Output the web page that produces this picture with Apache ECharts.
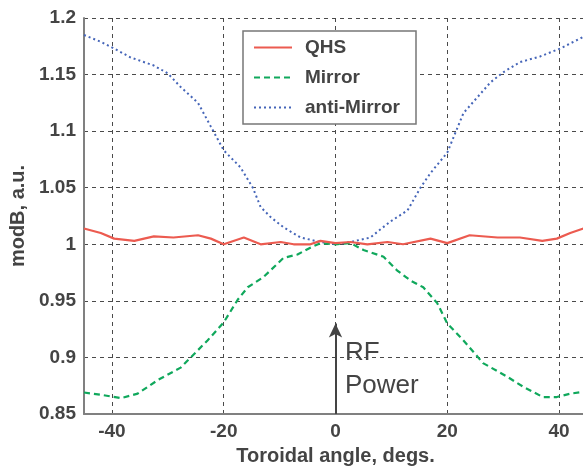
<!DOCTYPE html>
<html>
<head>
<meta charset="utf-8">
<script src="https://cdn.jsdelivr.net/npm/echarts@6/dist/echarts.min.js"></script>
<style>
  html, body { margin: 0; padding: 0; background: #fff; }
  #chart { width: 583px; height: 470px; }
</style>
</head>
<body>
<div id="chart"></div>
<script>
// values
var seriesNames = ["QHS", "Mirror", "anti-Mirror"];

var qhsX = [-45, -42, -39.6, -36, -32.5, -29, -24.6, -22.3, -20, -16.4, -13.4, -9.8, -7.5, -4.5, -2.7, 0,
  2.7, 5.7, 9.3, 12.1, 17, 20, 24, 29, 33, 37, 39.6, 42, 45];
var qhsY = [1.014, 1.010, 1.005, 1.003, 1.007, 1.006, 1.008, 1.005, 1.000, 1.006, 1.000, 1.002, 1.000, 1.000, 1.003, 1.001,
  1.002, 1.000, 1.002, 1.000, 1.005, 1.001, 1.008, 1.006, 1.006, 1.003, 1.005, 1.010, 1.015];

var mirrorX = [-45, -42, -38.4, -35.4, -31.8, -27.7, -25.9, -22.9, -20, -17.5, -15.7, -12.9, -9.3, -6.8, -4.5, -2.7, 0,
  2.7, 5, 8.6, 11, 13.4, 15.7, 18.2, 20, 22.9, 26.4, 30.7, 33.6, 37.1, 39.6, 42, 45];
var mirrorY = [0.869, 0.867, 0.864, 0.868, 0.880, 0.891, 0.900, 0.915, 0.931, 0.951, 0.962, 0.971, 0.988, 0.991, 0.997, 1.001, 1.000,
  1.001, 0.995, 0.989, 0.977, 0.968, 0.962, 0.948, 0.930, 0.915, 0.895, 0.883, 0.874, 0.865, 0.865, 0.868, 0.870];

var antiX = [-45, -42, -40, -36.6, -32.5, -30, -27.7, -24.6, -22.3, -20, -17, -14.8, -13.4, -11.6, -9.3, -6.25, -2.7, 0,
  2.7, 6.25, 8, 9.8, 12.9, 15.2, 17, 20, 21.4, 22.9, 25.4, 27.7, 30, 33, 36.6, 40.2, 43.8, 45];
var antiY = [1.185, 1.179, 1.174, 1.165, 1.158, 1.151, 1.139, 1.125, 1.104, 1.083, 1.068, 1.050, 1.033, 1.024, 1.015, 1.006, 1.002, 1.000,
  1.002, 1.006, 1.013, 1.020, 1.030, 1.050, 1.063, 1.081, 1.098, 1.116, 1.130, 1.143, 1.152, 1.161, 1.166, 1.173, 1.182, 1.185];

// RF power arrow, drawn in data coords
var arrowX = 0;
var arrowFrom = 0.85;
var arrowTo = 0.93;

function zip(xs, ys) {
  return xs.map(function (x, i) { return [x, ys[i]]; });
}

var font = "Liberation Sans, Arial, sans-serif";
var textColor = "#444";

var chart = echarts.init(document.getElementById("chart"));
chart.setOption({
  animation: false,
  backgroundColor: "#fff",
  grid: {
    left: 84,
    right: -4,
    top: 18,
    bottom: 56,
    containLabel: false,
    outerBoundsMode: "none"
  },
  legend: {
    data: seriesNames,
    orient: "vertical",
    left: 243,
    top: 31,
    padding: [7, 16, 7, 10],
    itemWidth: 38,
    itemHeight: 14,
    itemGap: 11,
    backgroundColor: "#fff",
    borderColor: "#777",
    borderWidth: 1.5,
    borderRadius: 0,
    itemStyle: { opacity: 0 },
    textStyle: {
      fontFamily: font,
      fontWeight: "bold",
      fontSize: 19,
      color: textColor,
      padding: [0, 0, 0, 8]
    }
  },
  xAxis: {
    type: "value",
    min: -45,
    max: 45,
    name: "Toroidal angle, degs.",
    nameLocation: "middle",
    nameGap: 32,
    nameTextStyle: { fontFamily: font, fontWeight: "bold", fontSize: 20, color: textColor },
    axisLine: { onZero: false, lineStyle: { color: "#808080", width: 2 } },
    axisTick: { show: false },
    axisLabel: {
      showMinLabel: false,
      showMaxLabel: false,
      margin: 8,
      fontFamily: font, fontWeight: "bold", fontSize: 19, color: textColor
    },
    splitLine: { show: true, lineStyle: { color: "#4a4a4a", type: [4, 4], width: 1 } }
  },
  yAxis: {
    type: "value",
    min: 0.85,
    max: 1.2,
    interval: 0.05,
    name: "modB, a.u.",
    nameLocation: "middle",
    nameGap: 49,
    nameTextStyle: { fontFamily: font, fontWeight: "bold", fontSize: 20, color: textColor },
    axisLine: { show: true, onZero: false, lineStyle: { color: "#808080", width: 2 } },
    axisTick: { show: false },
    axisLabel: {
      margin: 8,
      fontFamily: font, fontWeight: "bold", fontSize: 19, color: textColor
    },
    splitLine: { show: true, lineStyle: { color: "#4a4a4a", type: [4, 4], width: 1 } }
  },
  series: [
    {
      name: "QHS",
      type: "line",
      data: zip(qhsX, qhsY),
      symbol: "none",
      color: "#ec5b50",
      lineStyle: { color: "#ec5b50", width: 2.2, type: "solid" },
      z: 4
    },
    {
      name: "Mirror",
      type: "line",
      data: zip(mirrorX, mirrorY),
      symbol: "none",
      color: "#10a85c",
      lineStyle: { color: "#10a85c", width: 2.2, type: [6, 4] },
      z: 3,
      markLine: {
        silent: true,
        symbol: ["none", "arrow"],
        symbolSize: [10, 14],
        label: { show: false },
        lineStyle: { color: "#444", width: 2, type: "solid" },
        data: [[{ coord: [arrowX, arrowFrom] }, { coord: [arrowX, arrowTo] }]]
      }
    },
    {
      name: "anti-Mirror",
      type: "line",
      data: zip(antiX, antiY),
      symbol: "none",
      color: "#4565b8",
      lineStyle: { color: "#4565b8", width: 2, type: [2, 3] },
      z: 2
    }
  ],
  graphic: [
    {
      type: "text",
      left: 345,
      top: 336,
      style: {
        text: "RF\nPower",
        fontFamily: font,
        fontSize: 26,
        lineHeight: 33,
        fill: "#444"
      }
    }
  ]
});
</script>
</body>
</html>
